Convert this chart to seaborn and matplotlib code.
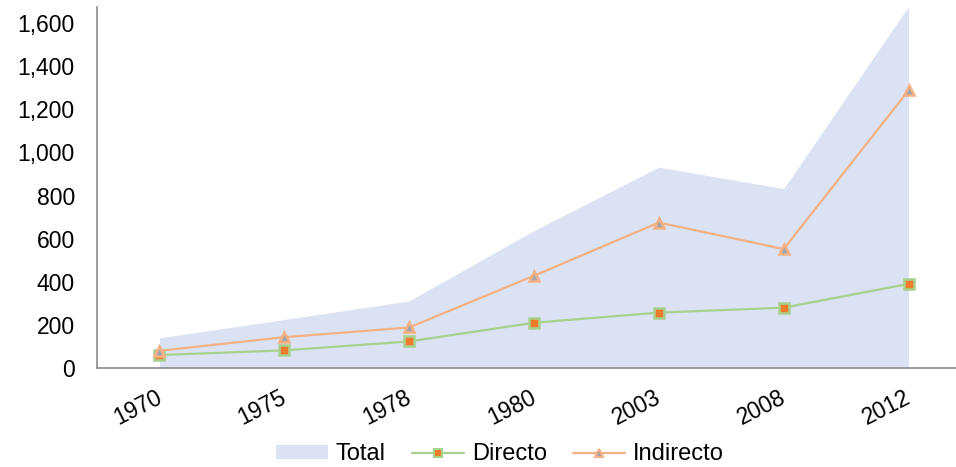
import numpy as np
import pandas as pd
import seaborn as sns
import matplotlib.pyplot as plt
import matplotlib.transforms as mtransforms
from matplotlib.patches import Patch
from matplotlib.lines import Line2D

# datos
anios = ['1970', '1975', '1978', '1980', '2003', '2008', '2012']
directo = [60, 82, 123, 210, 257, 280, 390]
indirecto = [80, 143, 188, 428, 675, 552, 1288]
total = [140, 225, 311, 638, 932, 832, 1678]

sns.set_style('white')
plt.rcParams['font.family'] = ['Liberation Sans', 'DejaVu Sans']
plt.rcParams['text.color'] = 'black'
plt.rcParams['xtick.labelcolor'] = 'black'
plt.rcParams['ytick.labelcolor'] = 'black'

df = pd.DataFrame({'x': np.arange(len(anios)), 'Directo': directo, 'Indirecto': indirecto})
largo = df.melt(id_vars='x', var_name='serie', value_name='valor')

fig = plt.figure(figsize=(9.56, 4.67), dpi=100)
ax = fig.add_axes([0.1015, 0.212, 0.8985, 0.773])

ax.fill_between(df['x'], total, color='#DAE2F3', lw=0, zorder=1)

sns.lineplot(data=largo, x='x', y='valor', hue='serie', style='serie',
             palette={'Directo': '#A9D18E', 'Indirecto': '#F4B183'},
             markers={'Directo': 's', 'Indirecto': '^'}, dashes=False,
             lw=1.6, markersize=7, legend=False, ax=ax, zorder=3)
# colores de relleno de los marcadores
for ln, (mfc, mec) in zip(ax.get_lines(), [('#F07B2A', '#A9D18E'), ('#A0A4AE', '#F4B183')]):
    ln.set_markerfacecolor(mfc)
    ln.set_markeredgecolor(mec)
    ln.set_markeredgewidth(1.8)

ax.set_xlim(-0.5, 6.38)
ax.set_ylim(0, 1675)
ax.set_yticks(range(0, 1601, 200))
ax.set_yticklabels([f'{v:,}' for v in range(0, 1601, 200)])
ax.set_xticks(range(len(anios)))
ax.set_xticklabels(anios, rotation=27, ha='right')
ax.set_xticks(np.arange(-0.5, 6, 1), minor=True)
ax.tick_params(axis='x', which='major', length=0, pad=13, labelsize=16.5)
ax.tick_params(axis='x', which='minor', length=7, color='#8C8C8C', width=1.2, direction='out')
ax.tick_params(axis='y', length=6, color='#8C8C8C', width=1.2, direction='out', labelsize=16.5, pad=10)
desplaza = mtransforms.ScaledTranslation(6 / 100, 0, fig.dpi_scale_trans)
for lbl in ax.get_xticklabels():
    lbl.set_transform(lbl.get_transform() + desplaza)
ax.set_xlabel('')
ax.set_ylabel('')

for s in ['top', 'right']:
    ax.spines[s].set_visible(False)
for s in ['left', 'bottom']:
    ax.spines[s].set_color('#8C8C8C')
    ax.spines[s].set_linewidth(1.2)

handles = [Patch(facecolor='#DAE2F3', edgecolor='none'),
           Line2D([], [], color='#A9D18E', lw=1.6, marker='s', markersize=6,
                  markerfacecolor='#F07B2A', markeredgecolor='#A9D18E', markeredgewidth=1.5),
           Line2D([], [], color='#F4B183', lw=1.6, marker='^', markersize=6,
                  markerfacecolor='#A0A4AE', markeredgecolor='#F4B183', markeredgewidth=1.5)]
fig.legend(handles, ['Total', 'Directo', 'Indirecto'], loc='center', bbox_to_anchor=(0.523, 0.027),
           ncol=3, frameon=False, fontsize=17, handlelength=2.2, handleheight=0.55,
           columnspacing=1.1, handletextpad=0.35)

fig.savefig('out.png', dpi=100)
